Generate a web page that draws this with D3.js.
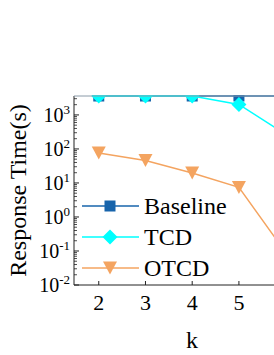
<!DOCTYPE html>
<html><head><meta charset="utf-8">
<script src="https://cdn.jsdelivr.net/npm/d3@7"></script>
<style>body{margin:0;background:#fff}svg{display:block}</style>
</head><body>
<script>
// ---- data ----
const ks = [2, 3, 4, 5, 6];
const baseline = [3600, 3600, 3600, 3600, 3600];
const tcd = [3600, 3600, 3600, 2040, 270];
const otcd = [76, 46, 19.7, 7.4, 0.09];
const seriesNames = ["Baseline", "TCD", "OTCD"];
const seriesColors = ["#1764ab", "#00ffff", "#f4a460"];
const xTicks = [2, 3, 4, 5];
const yTickExps = [-2, -1, 0, 1, 2, 3];
const xLabel = "k";
const yLabel = "Response Time(s)";

(function () {
// ---- layout ----
const W = 274, H = 355;
const mLeft = 74, mTop = 96, mBottom = 285, mRight = 309;
const FONT = "Liberation Serif";

const svg = d3.select("body").append("svg").attr("width", W).attr("height", H);

const x = d3.scaleLinear().domain([1.47, 6.5]).range([mLeft, mRight]);
const y = d3.scaleLog().domain([0.01, 3600]).range([mBottom, mTop]);

svg.append("defs").append("clipPath").attr("id", "clip")
  .append("rect").attr("x", mLeft).attr("y", mTop - 1).attr("width", mRight - mLeft).attr("height", mBottom - mTop + 1);

const series = [baseline, tcd, otcd];
const plot = svg.append("g").attr("clip-path", "url(#clip)");

function drawMarker(g, i, cx, cy) {
  const c = seriesColors[i];
  if (i === 0) {
    g.append("rect").attr("x", cx - 5.5).attr("y", cy - 5.5).attr("width", 11).attr("height", 11).attr("fill", c);
  } else if (i === 1) {
    const r = 7.5;
    g.append("path").attr("d", `M${cx},${cy - r}L${cx + r},${cy}L${cx},${cy + r}L${cx - r},${cy}Z`).attr("fill", c);
  } else {
    const h = 6.5;
    g.append("path").attr("d", `M${cx - 7},${cy - h}L${cx + 7},${cy - h}L${cx},${cy + h}Z`).attr("fill", c);
  }
}

const line = d3.line().x((d, j) => x(ks[j])).y(d => y(d));
series.forEach((vals, i) => {
  const g = plot.append("g");
  g.append("path").attr("d", line(vals)).attr("fill", "none")
    .attr("stroke", seriesColors[i]).attr("stroke-width", 1.5);
  vals.forEach((v, j) => drawMarker(g, i, x(ks[j]), y(v)));
});

// spines
svg.append("line").attr("x1", mLeft).attr("x2", mRight).attr("y1", mBottom).attr("y2", mBottom).attr("stroke", "#222").attr("stroke-width", 1);
svg.append("line").attr("x1", mLeft).attr("x2", mLeft).attr("y1", mTop).attr("y2", mBottom).attr("stroke", "#222").attr("stroke-width", 1);
svg.append("line").attr("x1", mLeft).attr("x2", mRight).attr("y1", mTop).attr("y2", mTop).attr("stroke", "#8a9aa8").attr("stroke-width", 1);

// x ticks (inward)
const xg = svg.append("g");
xTicks.forEach(t => {
  const px = x(t);
  xg.append("line").attr("x1", px).attr("x2", px).attr("y1", mBottom).attr("y2", mBottom - 4).attr("stroke", "#222");
  xg.append("text").attr("x", px).attr("y", 310).attr("text-anchor", "middle")
    .attr("font-family", FONT).attr("font-size", 22).text(t);
});

// y ticks: majors + log minors (inward)
const yg = svg.append("g");
yTickExps.forEach(e => {
  const v = Math.pow(10, e);
  const py = y(v);
  yg.append("line").attr("x1", mLeft).attr("x2", mLeft + 5).attr("y1", py).attr("y2", py).attr("stroke", "#222");
  const t = yg.append("text").attr("x", 70).attr("y", py + 7).attr("text-anchor", "end")
    .attr("font-family", FONT).attr("font-size", 20);
  t.append("tspan").text("10");
  t.append("tspan").attr("font-size", 13).attr("dy", -8).text(e < 0 ? "-" + (-e) : String(e));
  for (let m = 2; m <= 9; m++) {
    const mv = m * v;
    if (mv > y.domain()[1]) break;
    const my = y(mv);
    yg.append("line").attr("x1", mLeft).attr("x2", mLeft + 3).attr("y1", my).attr("y2", my).attr("stroke", "#222").attr("stroke-width", 0.8);
  }
});

// axis labels
svg.append("text").attr("x", 192).attr("y", 348).attr("text-anchor", "middle")
  .attr("font-family", FONT).attr("font-size", 24).text(xLabel);
svg.append("text").attr("transform", `translate(26,${(mTop + mBottom) / 2}) rotate(-90)`)
  .attr("text-anchor", "middle").attr("font-family", FONT).attr("font-size", 24).text(yLabel);

// legend
const legY = [206, 237, 268];
seriesNames.forEach((n, i) => {
  const g = svg.append("g");
  g.append("line").attr("x1", 82).attr("x2", 139).attr("y1", legY[i]).attr("y2", legY[i])
    .attr("stroke", seriesColors[i]).attr("stroke-width", 1.5);
  drawMarker(g, i, 110, legY[i]);
  g.append("text").attr("x", 144).attr("y", legY[i] + 8)
    .attr("font-family", FONT).attr("font-size", 24).text(n);
});
})();
</script>
</body></html>
